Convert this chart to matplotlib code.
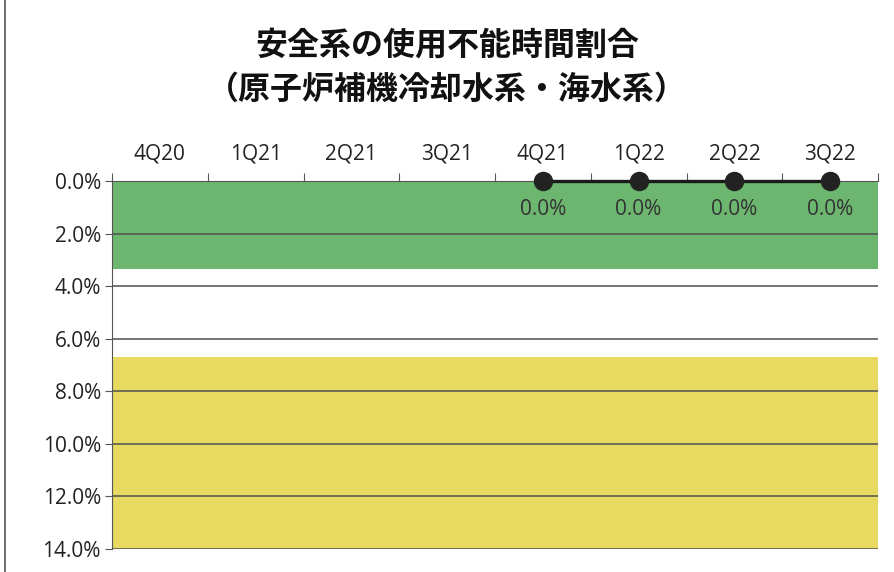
import matplotlib
matplotlib.use('Agg')
import matplotlib.pyplot as plt
from matplotlib.lines import Line2D

# data
quarters = ['4Q20', '1Q21', '2Q21', '3Q21', '4Q21', '1Q22', '2Q22', '3Q22']
values = [None, None, None, None, 0.0, 0.0, 0.0, 0.0]
green_top = 3.35
yellow_top = 6.7
y_max = 14.0
y_ticks = [0, 2, 4, 6, 8, 10, 12, 14]
title = '安全系の使用不能時間割合\n（原子炉補機冷却水系・海水系）'

plt.rcParams['font.family'] = ['Noto Sans CJK JP', 'DejaVu Sans']

fig = plt.figure(figsize=(8.94, 5.72), dpi=100)
fig.patch.set_facecolor('white')
fig.lines.append(Line2D([0.006, 0.006], [0, 1], transform=fig.transFigure,
                        color='#555555', linewidth=1.2))
ax = fig.add_axes([112 / 894, 1 - 549 / 572, (878 - 112) / 894, (549 - 181) / 572])

x = list(range(len(quarters)))
x_left, x_right = -0.5, len(quarters) - 0.5

ax.fill_between([x_left, x_right], 0, green_top, color='#6cb670', zorder=1, linewidth=0)
ax.fill_between([x_left, x_right], yellow_top, y_max, color='#e8d960', zorder=1, linewidth=0)

for t in y_ticks:
    ax.axhline(t, color='#505050', linewidth=1.1, zorder=2)

xs = [i for i, v in zip(x, values) if v is not None]
ys = [v for v in values if v is not None]
ax.plot(xs, ys, color='#1a1a1a', linewidth=2.4, marker='o', markersize=13,
        markerfacecolor='#222222', markeredgecolor='#222222', zorder=5, clip_on=False)
for xi, yi in zip(xs, ys):
    ax.text(xi, yi + 1.1, f'{yi:.1f}%', ha='center', va='center', fontsize=15,
            color='#333333', family=['Open Sans', 'DejaVu Sans'], zorder=6)

ax.set_xlim(x_left, x_right)
ax.set_ylim(y_max, 0)
ax.set_yticks(y_ticks)
ax.set_yticklabels([f'{t:.1f}%' for t in y_ticks], fontsize=15,
                   family=['Open Sans', 'DejaVu Sans'], color='#222222')
ax.xaxis.tick_top()
ax.set_xticks([i + 0.5 for i in x[:-1]] + [x_left, x_right])
ax.set_xticklabels([])
ax.set_xticks(x, minor=True)
ax.set_xticklabels(quarters, minor=True, fontsize=15,
                   family=['Open Sans', 'DejaVu Sans'], color='#222222')
ax.tick_params(axis='x', which='major', length=6, color='#555555', direction='out')
ax.tick_params(axis='x', which='minor', length=0, pad=12)
ax.tick_params(axis='y', length=5, color='#555555', pad=3)

for s in ['right', 'bottom']:
    ax.spines[s].set_visible(False)
ax.spines['left'].set_color('#555555')
ax.spines['top'].set_color('#555555')

fig.text(0.5, 1 - 68 / 572, title, ha='center', va='center', fontsize=23,
         fontweight='bold', linespacing=1.5, color='#111111')

fig.savefig('out.png', dpi=100)
